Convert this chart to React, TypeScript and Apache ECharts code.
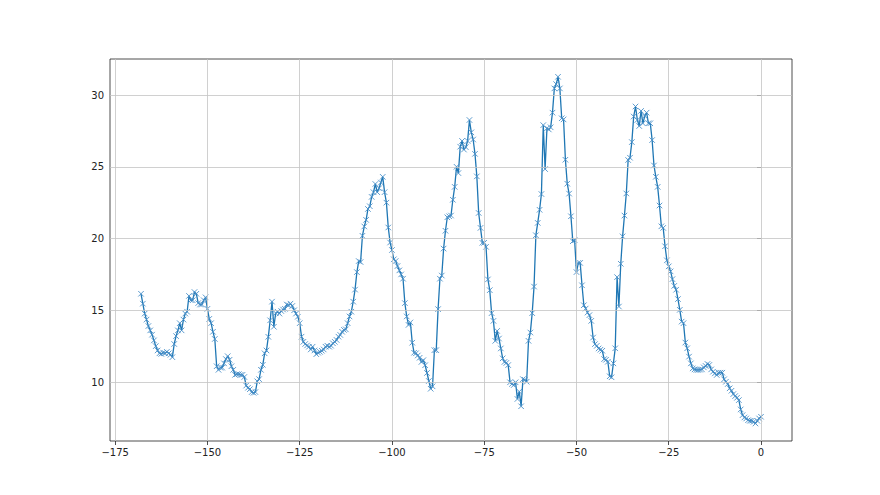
import React, { useEffect, useRef } from "react";
import * as echarts from "echarts";

const X_START = -168;
const X_STEP = 0.5;

const segA = [
  16.15, 15.46, 14.77, 14.35, 13.9, 13.6, 13.3, 12.9, 12.5, 12.2,
  12.0, 11.96, 12.05, 12.0, 12.1, 12.0, 11.9, 11.73, 12.65, 13.2,
  13.6, 14.1, 13.6, 14.35, 14.77, 14.9, 16.0, 15.7, 15.7, 16.27,
  16.15, 15.5, 15.4, 15.4, 15.7, 15.9, 15.1, 14.4, 14.1, 13.5,
  13.0, 11.1, 10.85, 11.0, 11.0, 11.3, 11.6, 11.8, 11.55, 11.1,
  10.85, 10.5, 10.55, 10.55, 10.5, 10.5, 10.35, 9.75, 9.6, 9.5,
  9.3, 9.25, 9.3, 10.05, 10.2, 10.85, 11.2, 12.0, 12.2, 13.15,
  14.3, 15.6, 13.85, 14.8, 14.9, 14.77, 14.95, 15.05, 15.1, 15.4,
  15.35, 15.46, 15.3, 15.0, 14.77, 14.55, 14.1,
];

const segB = [
  13.16, 12.8, 12.65, 12.55, 12.46, 12.27, 12.46, 12.2, 11.94, 12.04,
  12.1, 12.18, 12.27, 12.46, 12.53, 12.46, 12.53, 12.7, 12.8, 12.93,
  13.16, 13.28, 13.5, 13.63, 13.67, 14.1, 14.57, 14.9, 15.6, 16.44,
  17.66, 18.43, 18.36, 20.19, 20.84, 21.3, 22.06, 22.25, 22.9, 23.23,
  23.8, 23.23, 23.5, 23.9, 24.3, 23.23, 22.5, 20.77, 19.72, 19.2,
  18.55, 18.43, 18.08, 17.78, 17.5, 17.2, 15.5, 14.57, 13.98, 14.15,
  12.74, 12.04, 12.0, 11.85, 11.69, 11.4, 11.52, 11.17, 10.63, 10.07,
  9.53, 9.7, 12.22, 12.22, 15.08, 17.2, 17.42, 19.3, 20.54, 21.48,
];

const segC = [
  21.55, 21.6, 22.7, 23.6, 25.0, 24.56, 26.4, 26.8, 26.2, 26.37,
  26.8, 28.26, 27.4, 26.9, 25.9, 24.33, 21.78, 20.74, 19.7, 19.7,
  19.42, 17.15, 16.4, 14.8, 14.26, 12.87, 13.56, 13.03, 12.34, 11.65,
  11.4, 11.33, 11.18, 9.98, 9.86, 9.79, 9.98, 8.82, 9.33, 8.31,
  10.2, 10.16, 10.02, 12.87, 13.45, 14.8, 16.65, 20.23, 21.09, 22.0,
  23.1, 27.9, 24.84, 27.68, 27.6, 27.75, 28.77, 30.46, 30.76, 31.27,
  30.46, 28.38, 28.3, 25.49, 23.82, 23.13, 21.55, 19.81, 19.88, 17.66,
  18.3, 18.3, 16.74, 15.35, 15.12, 14.84, 14.66, 14.26, 13.1, 12.64,
  12.52, 12.34, 12.25, 12.18, 11.6, 11.55, 11.41, 10.4, 10.33,
];

const segD = [
  11.3, 12.35, 17.31, 15.26, 18.24, 20.15, 21.6, 23.14, 25.47, 25.63,
  26.72, 28.5, 29.2, 28.26, 27.84, 28.89, 28.03, 28.54, 28.77, 28.03,
  28.03, 26.86, 25.09, 24.3, 23.6, 22.3, 20.85, 20.74, 19.46, 18.48,
  18.06, 17.71, 17.17, 16.7, 16.43, 15.78, 15.03, 14.21, 14.1, 12.75,
  12.35, 11.77, 11.3, 10.95, 10.88, 10.84, 10.84, 10.86, 10.88, 11.02,
  11.12, 11.26, 11.19, 10.88, 10.72, 10.6, 10.49, 10.65, 10.65, 10.65,
  10.19, 10.02, 9.86, 9.56, 9.39, 9.16, 9.02, 8.9, 8.74, 8.09,
  7.69, 7.53, 7.46, 7.34, 7.3, 7.3, 7.23, 7.11, 7.3, 7.46,
  7.58,
];

const xTicks = [-175, -150, -125, -100, -75, -50, -25, 0];
const yTicks = [10, 15, 20, 25, 30];

const X_MIN = -176.4;
const X_MAX = 8.4;
const Y_MIN = 5.89;
const Y_MAX = 32.51;

const LINE_COLOR = "#1f77b4";
const MARKER_COLOR = "#4a90c8";
const GRID_COLOR = "#c4c4c4";

export default function App() {
  const ref = useRef<HTMLDivElement>(null);

  useEffect(() => {
    document.body.style.margin = "0";
    const chart = echarts.init(ref.current!, null, { renderer: "svg" });
    const values = [...segA, ...segB, ...segC, ...segD];
    const data = values.map((v, i) => [X_START + i * X_STEP, v]);
    const fmt = (v: number) => String(v).replace("-", "\u2212");

    const gridLines = [
      ...xTicks.map((t) => [
        { coord: [t, Y_MIN] },
        { coord: [t, Y_MAX] },
      ]),
      ...yTicks.map((t) => [
        { coord: [X_MIN, t] },
        { coord: [X_MAX, t] },
      ]),
    ];

    chart.setOption({
      animation: false,
      backgroundColor: "#ffffff",
      grid: {
        left: 110,
        right: 88,
        top: 59,
        bottom: 54,
        show: true,
        borderColor: "#222222",
        borderWidth: 0.8,
        backgroundColor: "transparent",
      },
      xAxis: {
        type: "value",
        min: X_MIN,
        max: X_MAX,
        axisLine: { show: false },
        axisTick: {
          show: true,
          customValues: xTicks,
          length: 4,
          lineStyle: { color: "#222222", width: 0.8 },
        },
        axisLabel: {
          customValues: xTicks,
          formatter: fmt,
          color: "#222222",
          fontSize: 10,
          fontFamily: "DejaVu Sans",
          margin: 6,
        },
        splitLine: { show: false },
      },
      yAxis: {
        type: "value",
        min: Y_MIN,
        max: Y_MAX,
        axisLine: { show: false },
        axisTick: {
          show: true,
          customValues: yTicks,
          length: 4,
          lineStyle: { color: "#222222", width: 0.8 },
        },
        axisLabel: {
          customValues: yTicks,
          formatter: fmt,
          color: "#222222",
          fontSize: 10,
          fontFamily: "DejaVu Sans",
          margin: 6,
        },
        splitLine: { show: false },
      },
      series: [
        {
          type: "line",
          data: [],
          silent: true,
          z: 1,
          markLine: {
            silent: true,
            symbol: ["none", "none"],
            label: { show: false },
            lineStyle: { color: GRID_COLOR, width: 0.8, type: "solid" },
            emphasis: { disabled: true },
            data: gridLines,
            animation: false,
          },
        },
        {
          type: "line",
          z: 3,
          data,
          showSymbol: true,
          showAllSymbol: true,
          symbol: "path://M0,0L10,10M10,0L0,10",
          symbolSize: 5.5,
          itemStyle: {
            color: "none",
            borderColor: MARKER_COLOR,
            borderWidth: 0.9,
          },
          lineStyle: { color: LINE_COLOR, width: 1.3 },
          emphasis: { disabled: true },
        },
      ],
    });
    return () => chart.dispose();
  }, []);

  return (
    <div
      ref={ref}
      style={{ position: "absolute", left: 0, top: 0, width: 880, height: 495 }}
    />
  );
}
